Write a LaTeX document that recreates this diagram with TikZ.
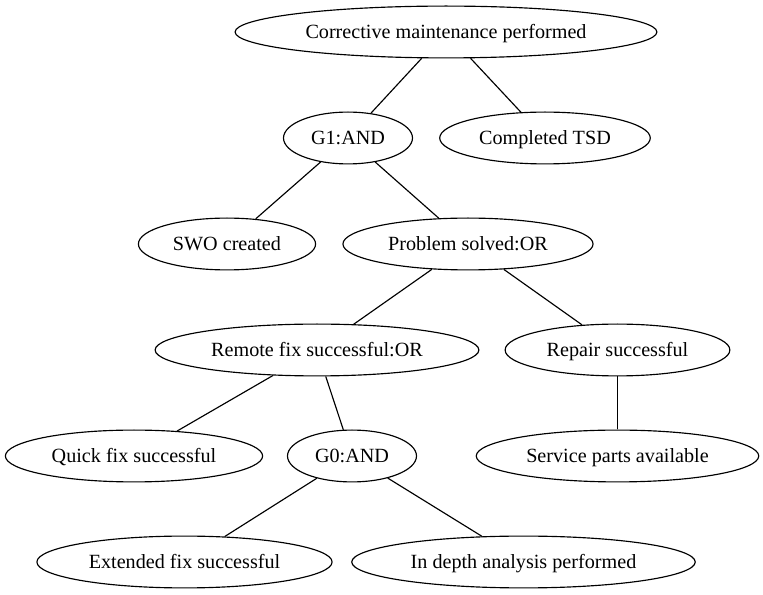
\documentclass[tikz,border=0pt]{standalone}
\usepackage{fontspec}
\setmainfont{Liberation Serif}
\usepackage{tikz}
\usetikzlibrary{shapes,arrows}

\begin{document}
\begin{tikzpicture}[x=0.6944pt, y=-0.6944pt,
  event/.style={draw, ellipse, line width=0.8pt, inner xsep=6pt, inner ysep=0pt, text height=9.5pt, text depth=0pt, minimum height=36pt, font=\fontsize{14}{16}\selectfont},
  link/.style={line width=0.8pt}]
\useasboundingbox (0,0) rectangle (763,595);
\node[event] (cmp) at (446,32) {Corrective maintenance performed};
\node[event] (gone) at (348,138) {G1:AND};
\node[event] (tsd) at (545,138) {Completed TSD};
\node[event] (swo) at (227,244) {SWO created};
\node[event] (solved) at (468,244) {Problem solved:OR};
\node[event] (remote) at (317,350) {Remote fix successful:OR};
\node[event] (repair) at (617.5,350) {Repair successful};
\node[event] (quick) at (134,456) {Quick fix successful};
\node[event] (gzero) at (352,456) {G0:AND};
\node[event] (service) at (617.5,456) {Service parts available};
\node[event] (extended) at (184.5,562) {Extended fix successful};
\node[event] (depth) at (523.5,562) {In depth analysis performed};
\draw[link] (cmp) -- (gone);
\draw[link] (cmp) -- (tsd);
\draw[link] (gone) -- (swo);
\draw[link] (gone) -- (solved);
\draw[link] (solved) -- (remote);
\draw[link] (solved) -- (repair);
\draw[link] (remote) -- (quick);
\draw[link] (remote) -- (gzero);
\draw[link] (repair) -- (service);
\draw[link] (gzero) -- (extended);
\draw[link] (gzero) -- (depth);
\end{tikzpicture}
\end{document}
